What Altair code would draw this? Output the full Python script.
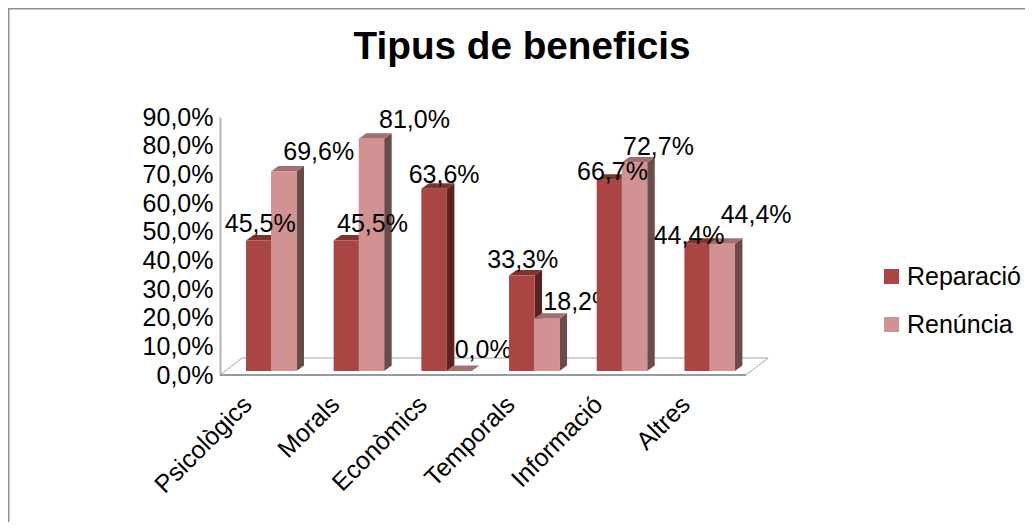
import altair as alt
import pandas as pd

title = "Tipus de beneficis"
categories = ["Psicològics", "Morals", "Econòmics", "Temporals", "Informació", "Altres"]
series_names = ["Reparació", "Renúncia"]
reparacio = [45.5, 45.5, 63.6, 33.3, 66.7, 44.4]
renuncia = [69.6, 81.0, 0.0, 18.2, 72.7, 44.4]
y_ticks = [0, 10, 20, 30, 40, 50, 60, 70, 80, 90]

# label nudges in pixels (the original has hand-moved data labels)
nudge_dx = [[1.5, 26, 10, 1, 3, -8], [35, 43, 24, 32, 24, 34]]
nudge_dy = [[-9, -9, -6, -8, 0, 0], [-11, -11, -13, -9, -8, -21]]

FRONT = ["#A94543", "#D09292"]
SIDE = ["#5A2220", "#6B4A48"]
TOP = ["#7F3331", "#A37070"]
FONT = "Liberation Sans"

W, H = 548, 258
XMAX, YMAX = 6.25, 90
XU, YU = W / XMAX, H / YMAX
DX, DY = 7.5 / XU, 5.5 / YU     # depth of a bar
FDX, FDY = 22 / XU, 17 / YU     # depth of the floor
BASE = 4 / YU
BAR_START, BAR_STEP, BAR_W = 26 / XU, 25 / XU, 25.5 / XU

xs = alt.Scale(domain=[0, XMAX], nice=False, zero=False)
ys = alt.Scale(domain=[0, YMAX], nice=False, zero=False)
y_axis = alt.Axis(
    values=y_ticks, title=None, ticks=False, grid=False, domain=True,
    domainColor="#b4b4b4", domainWidth=2, labelFont=FONT, labelFontSize=25,
    labelColor="#000000", labelPadding=7,
    labelExpr="replace(format(datum.value,'.1f'),'.',',')+'%'",
)
X = lambda f="x": alt.X(f"{f}:Q", scale=xs, axis=None)
Y = lambda f="y": alt.Y(f"{f}:Q", scale=ys, axis=y_axis)


def face(points, color):
    df = pd.DataFrame(points, columns=["x", "y", "y2"])
    return alt.Chart(df).mark_area(
        color=color, opacity=1, interpolate="linear", orient="vertical"
    ).encode(x=X(), y=Y(), y2="y2:Q")


# floor
axis_df = pd.DataFrame({"x": [0.0], "y": [0.0]})
floor_df = pd.DataFrame(
    [[0, 0, 0], [FDX, 0, FDY], [6, 0, FDY], [6 + FDX, FDY, FDY]],
    columns=["x", "y", "y2"],
)
floor = alt.Chart(floor_df).mark_area(
    color="#ffffff", stroke="#a6a6a6", strokeWidth=1, opacity=1,
    interpolate="linear", orient="vertical",
).encode(x=X(), y=Y(), y2="y2:Q")
floor_front = alt.Chart(pd.DataFrame({"x": [0.0], "x2": [6.0], "y": [0.0]})).mark_rule(
    color="#9a9a9a", strokeWidth=2
).encode(x=X(), x2="x2:Q", y=Y())

layers = [floor, floor_front]

color_scale = alt.Scale(domain=series_names, range=FRONT)
values = [reparacio, renuncia]

for i, cat in enumerate(categories):
    for s in range(2):
        v = values[s][i]
        left = i + BAR_START + s * BAR_STEP
        right = left + BAR_W
        top = v + BASE
        layers.append(face([[right, BASE, top], [right + DX, BASE + DY, top + DY]], SIDE[s]))
        layers.append(face(
            [[left, top, top], [left + DX, top, top + DY],
             [right, top, top + DY], [right + DX, top + DY, top + DY]],
            TOP[s],
        ))
        if v > 0:
            front_df = pd.DataFrame(
                {"x": [left], "x2": [right], "y": [top], "y2": [BASE], "serie": [series_names[s]]}
            )
            layers.append(alt.Chart(front_df).mark_rect().encode(
                x=X(), x2="x2:Q", y=Y(), y2="y2:Q",
                color=alt.Color("serie:N", scale=color_scale, sort=series_names, legend=alt.Legend(
                    orient="none", legendX=659, legendY=147, title=None, padding=0,
                    symbolType="square", symbolSize=225, symbolStrokeWidth=0,
                    labelFont=FONT, labelFontSize=25, labelColor="#000000",
                    labelOffset=3, rowPadding=22, labelLimit=200,
                )),
            ))
    for s in range(2):
        v = values[s][i]
        left = i + BAR_START + s * BAR_STEP
        lab_df = pd.DataFrame({
            "x": [left + BAR_W / 2], "y": [v + BASE],
            "t": [f"{v:.1f}".replace(".", ",") + "%"],
        })
        layers.append(alt.Chart(lab_df).mark_text(
            font=FONT, fontSize=25, color="#000000", align="center", baseline="alphabetic",
            dx=nudge_dx[s][i], dy=nudge_dy[s][i],
        ).encode(x=X(), y=Y(), text="t:N"))

# rotated category labels
cat_df = pd.DataFrame({
    "x": [0.025 + i for i in range(len(categories))],
    "y": [0.0] * len(categories),
    "c": categories,
})
layers.append(alt.Chart(cat_df).mark_text(
    font=FONT, fontSize=25, color="#000000", align="right", baseline="middle", angle=315, dy=36,
).encode(x=X(), y=Y(), text="c:N"))

# outer frame (top and left only)
FRAME = "#8f8f8f"
layers.append(alt.Chart(axis_df).mark_rule(color=FRAME, strokeWidth=2).encode(
    x=alt.value(-212), x2=alt.value(805), y=alt.value(-108.5)))
layers.append(alt.Chart(axis_df).mark_rule(color=FRAME, strokeWidth=3).encode(
    x=alt.value(-212), y=alt.value(-109), y2=alt.value(405)))

chart = alt.layer(*layers).properties(
    width=W, height=H,
    padding={"left": 212, "top": 109, "right": 257, "bottom": 147},
    autosize=alt.AutoSizeParams(type="none"),
    title=alt.TitleParams(
        title, font=FONT, fontSize=38.7, fontWeight="bold", color="#000000",
        anchor="middle", dx=28, offset=-91, baseline="alphabetic",
    ),
).configure_view(stroke=None)

chart.save("out.html", embed_options={"renderer": "svg", "actions": False})
